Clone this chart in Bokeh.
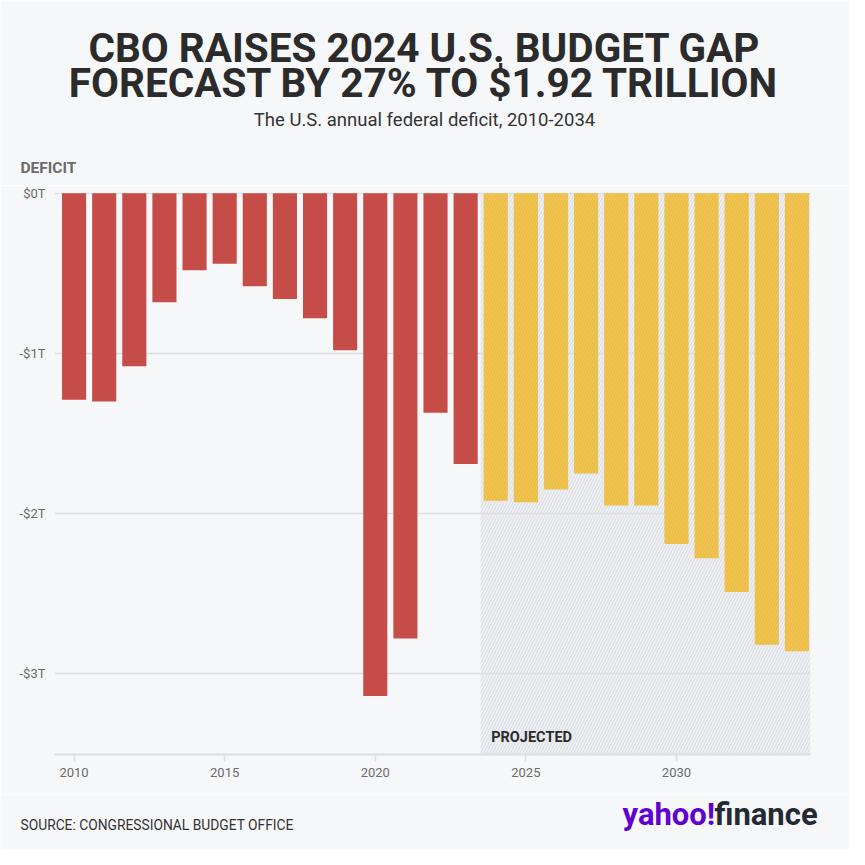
from bokeh.plotting import figure
from bokeh.layouts import column
from bokeh.models import Range1d, FixedTicker, Label, ColumnDataSource
from bokeh.embed import file_html
from bokeh.resources import INLINE

# ---- data ----
actual_years = [2010, 2011, 2012, 2013, 2014, 2015, 2016, 2017, 2018, 2019, 2020, 2021, 2022, 2023]
actual_deficit = [-1.29, -1.30, -1.08, -0.68, -0.48, -0.44, -0.58, -0.66, -0.78, -0.98, -3.14, -2.78, -1.37, -1.69]
proj_years = [2024, 2025, 2026, 2027, 2028, 2029, 2030, 2031, 2032, 2033, 2034]
proj_deficit = [-1.92, -1.93, -1.85, -1.75, -1.95, -1.95, -2.19, -2.28, -2.49, -2.82, -2.86]
y_ticks = [0, -1, -2, -3]
y_tick_labels = ["$0T", "-$1T", "-$2T", "-$3T"]
x_ticks = [2010, 2015, 2020, 2025, 2030]

BG = "#f6f7f9"
RED = "#c64c47"
YELLOW = "#f1c44f"
GRID = "#dcdee2"
FONT = "Roboto"
W = 849
FL, FR = 54, 39   # main frame borders left/right

x0, x1 = 2009.35, 2034.45
y0, y1 = -3.505, 0.005


def text_panel(h):
    f = figure(width=W, height=h, output_backend="svg", toolbar_location=None,
               x_range=Range1d(0, W), y_range=Range1d(h, 0),
               x_axis_type=None, y_axis_type=None,
               min_border_left=0, min_border_right=0,
               min_border_top=0, min_border_bottom=0,
               frame_align=False,
               background_fill_color=BG, border_fill_color=BG, outline_line_color=None)
    f.grid.visible = False
    return f


def lab(fig, text, x, y, size, color="#2b2b2b", style="normal", align="left", font=FONT):
    fig.add_layout(Label(x=x, y=y, text=text, text_font=font, text_font_size=size,
                         text_color=color, text_font_style=style, text_align=align,
                         text_baseline="middle"))


# ---- header ----
HEAD_H = 185
head = text_panel(HEAD_H)
lab(head, "CBO RAISES 2024 U.S. BUDGET GAP", 424, 47, "40.5px", style="bold", align="center")
lab(head, "FORECAST BY 27% TO $1.92 TRILLION", 424, 82, "40.5px", style="bold", align="center")
lab(head, "The U.S. annual federal deficit, 2010-2034", 424, 119, "18.5px", color="#333333", align="center")
lab(head, "DEFICIT", 20, 167, "15.5px", color="#6b6b6b", style="bold")

# ---- main chart ----
MAIN_H = 7 + 562 + 40
p = figure(width=W, height=MAIN_H, output_backend="svg", toolbar_location=None,
           x_range=Range1d(x0, x1), y_range=Range1d(y0, y1),
           min_border_left=FL, min_border_right=FR, min_border_top=7, min_border_bottom=40,
           frame_align=False,
           background_fill_color=BG, border_fill_color=BG, outline_line_color=None)
p.grid.visible = False

# projected region
p.quad(left=[2023.5], right=[x1], top=[0], bottom=[y0], fill_color="#eef0f3", line_color=None,
       hatch_pattern="/", hatch_color="#dde0e5", hatch_scale=6, hatch_weight=1.2)

# gridlines
p.hspan(y=y_ticks, line_color=GRID, line_width=1.5)

# bars
src_a = ColumnDataSource(dict(x=actual_years, top=actual_deficit))
src_p = ColumnDataSource(dict(x=proj_years, top=proj_deficit))
p.vbar(x="x", top="top", bottom=0, width=0.8, source=src_a, fill_color=RED, line_color=None)
p.vbar(x="x", top="top", bottom=0, width=0.8, source=src_p, fill_color=YELLOW, line_color=None,
       hatch_pattern="/", hatch_color="#e3b443", hatch_alpha=0.6, hatch_scale=6, hatch_weight=1)

p.add_layout(Label(x=2023.85, y=-3.4, text="PROJECTED", text_font=FONT, text_font_size="14.5px",
                   text_color="#2b2b2b", text_font_style="bold", text_baseline="middle"))

# axes
p.yaxis.ticker = FixedTicker(ticks=y_ticks)
p.yaxis.major_label_overrides = {t: l for t, l in zip(y_ticks, y_tick_labels)}
p.yaxis.axis_line_color = None
p.yaxis.major_tick_line_color = None
p.yaxis.minor_tick_line_color = None
p.yaxis.major_label_standoff = 3
p.yaxis.major_label_text_font = FONT
p.yaxis.major_label_text_font_size = "13px"
p.yaxis.major_label_text_color = "#6b6b6b"

p.xaxis.ticker = FixedTicker(ticks=x_ticks)
p.xaxis.axis_line_color = GRID
p.xaxis.axis_line_width = 2
p.xaxis.major_tick_line_color = GRID
p.xaxis.major_tick_line_width = 1.5
p.xaxis.major_tick_out = 7
p.xaxis.major_tick_in = 0
p.xaxis.minor_tick_line_color = None
p.xaxis.major_label_standoff = 6
p.xaxis.major_label_text_font = FONT
p.xaxis.major_label_text_font_size = "13px"
p.xaxis.major_label_text_color = "#6b6b6b"

# ---- footer ----
FOOT_H = 849 - HEAD_H - MAIN_H
foot = text_panel(FOOT_H)
lab(foot, "SOURCE: CONGRESSIONAL BUDGET OFFICE", 20, 30, "13.8px", color="#333333")
lab(foot, "yahoo!", 622, 20, "31px", color="#6001d2", style="bold")
lab(foot, "finance", 714, 20, "31px", color="#232a31", style="bold")

layout = column(head, p, foot, spacing=0)
open("out.html", "w").write(file_html(layout, INLINE))
